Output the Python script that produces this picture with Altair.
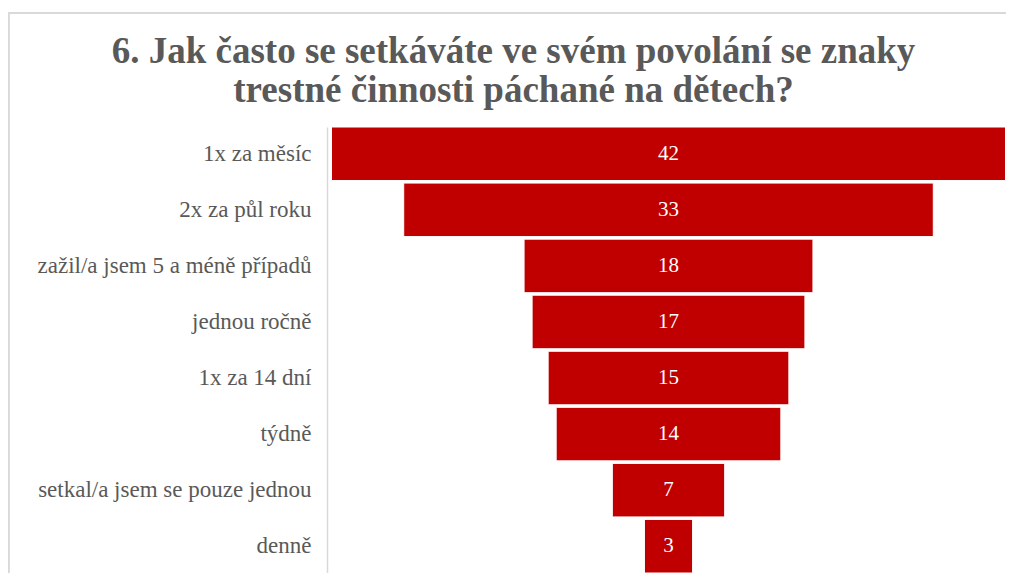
import altair as alt
import pandas as pd

categories = [
    "1x za měsíc",
    "2x za půl roku",
    "zažil/a jsem 5 a méně případů",
    "jednou ročně",
    "1x za 14 dní",
    "týdně",
    "setkal/a jsem se pouze jednou",
    "denně",
]
values = [42, 33, 18, 17, 15, 14, 7, 3]

title_lines = [
    "6. Jak často se setkáváte ve svém povolání se znaky",
    "trestné činnosti páchané na dětech?",
]

df = pd.DataFrame({"cat": categories, "val": values})

FONT = "Liberation Serif, Times New Roman, Liberation Sans"
GRAY = "#595959"
RED = "#C00000"

xscale = alt.Scale(domain=[-21.28, 21.03], nice=False, zero=False)
yscale = alt.Scale(domain=categories, paddingInner=0.045, paddingOuter=0.0)

base = alt.Chart(df).transform_calculate(
    lo="-datum.val/2", hi="datum.val/2", mid="0"
)

bars = base.mark_bar(color=RED, stroke="white", strokeWidth=1).encode(
    x=alt.X("lo:Q", scale=xscale, axis=None),
    x2="hi:Q",
    y=alt.Y(
        "cat:N",
        scale=yscale,
        sort=categories,
        axis=alt.Axis(
            title=None,
            ticks=False,
            domain=True,
            domainColor="#D9D9D9",
            domainWidth=1.5,
            labelFont=FONT,
            labelFontSize=23,
            labelColor=GRAY,
            labelPadding=16,
            labelLimit=400,
            grid=False,
        ),
    ),
)

text = base.mark_text(font=FONT, fontSize=21, color="white").encode(
    x=alt.X("mid:Q", scale=xscale),
    y=alt.Y("cat:N", scale=yscale, sort=categories),
    text="val:Q",
)

frame_left = alt.Chart(df).mark_rule(color="#D9D9D9", strokeWidth=1.5).encode(
    x=alt.value(-318.5), y=alt.value(-114), y2=alt.value(460)
)
frame_top = alt.Chart(df).mark_rule(color="#D9D9D9", strokeWidth=1.5).encode(
    x=alt.value(-318.5), x2=alt.value(679), y=alt.value(-114)
)

chart = (
    alt.layer(frame_left, frame_top, bars, text)
    .properties(
        width=679,
        height=446,
        autosize=alt.AutoSizeParams(type="none"),
        padding={"left": 319, "top": 119, "right": 0, "bottom": 0},
        title=alt.TitleParams(
            text=title_lines,
            font=FONT,
            fontSize=37,
            fontWeight="bold",
            color=GRAY,
            anchor="middle",
            dx=-153,
            dy=112,
            offset=14,
            lineHeight=39,
        ),
    )
    .configure_view(stroke=None)
)

chart.save("out.html", embed_options={"renderer": "svg", "actions": False})
